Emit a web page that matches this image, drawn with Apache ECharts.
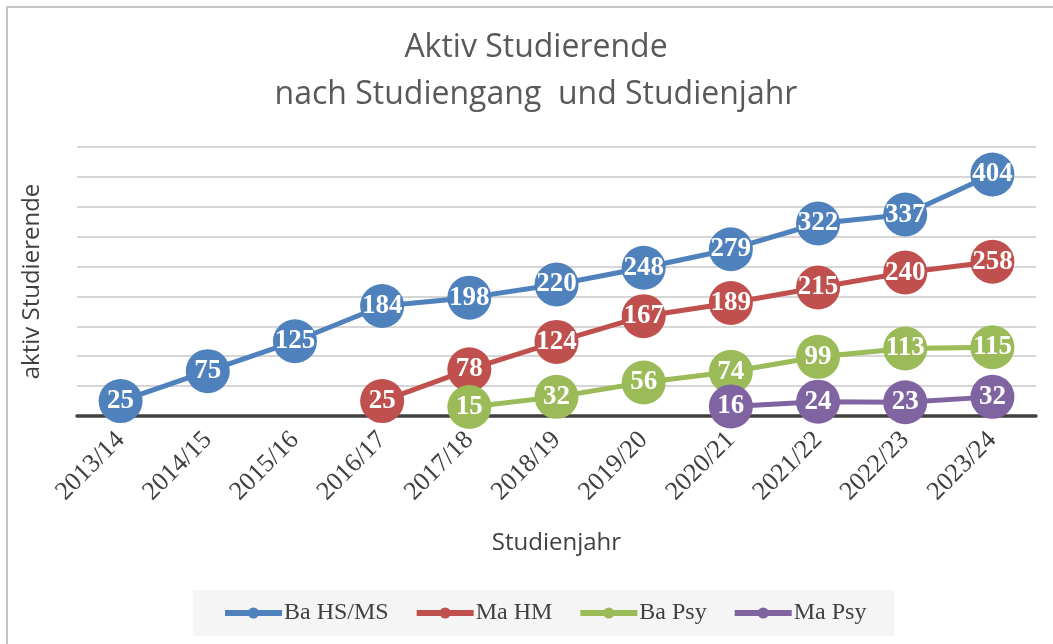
<!DOCTYPE html>
<html>
<head>
<meta charset="utf-8">
<script src="https://cdn.jsdelivr.net/npm/echarts@6/dist/echarts.min.js"></script>
<style>
  html, body { margin: 0; padding: 0; background: #fff; }
  #main { width: 1053px; height: 644px; }
</style>
</head>
<body>
<div id="main"></div>
<script>
// Studienjahre (Kategorien)
var years = ['2013/14', '2014/15', '2015/16', '2016/17', '2017/18', '2018/19',
             '2019/20', '2020/21', '2021/22', '2022/23', '2023/24'];

// aktiv Studierende je Studiengang
var baHsMs = [25, 75, 125, 184, 198, 220, 248, 279, 322, 337, 404];
var maHm   = ['-', '-', '-', 25, 78, 124, 167, 189, 215, 240, 258];
var baPsy  = ['-', '-', '-', '-', 15, 32, 56, 74, 99, 113, 115];
var maPsy  = ['-', '-', '-', '-', '-', '-', '-', 16, 24, 23, 32];

var names  = ['Ba HS/MS', 'Ma HM', 'Ba Psy', 'Ma Psy'];
var colors = ['#4f81bd', '#c0504d', '#9bbb59', '#8064a2'];

function mkSeries(name, data, color) {
    return {
        name: name,
        type: 'line',
        data: data,
        symbol: 'circle',
        symbolSize: 44,
        color: color,
        lineStyle: { width: 5, color: color },
        itemStyle: { color: color },
        label: {
            show: true,
            position: 'inside',
            color: '#fff',
            fontFamily: 'Liberation Serif',
            fontWeight: 'bold',
            fontSize: 27
        },
        emphasis: { disabled: true },
        animation: false
    };
}

var myChart = echarts.init(document.getElementById('main'));
var option = {
    backgroundColor: '#fff',
    title: {
        text: 'Aktiv Studierende\nnach Studiengang  und Studienjahr',
        left: 536,
        textAlign: 'center',
        top: 24,
        padding: 0,
        textStyle: {
            fontFamily: 'Open Sans',
            fontWeight: 'normal',
            fontSize: 32,
            lineHeight: 47,
            color: '#595959'
        }
    },
    legend: {
        data: names,
        left: 193,
        top: 590,
        backgroundColor: '#f5f5f5',
        padding: [11, 28, 11, 29],
        itemWidth: 57,
        itemHeight: 14,
        itemGap: 25,
        lineStyle: { width: 6 },
        textStyle: {
            fontFamily: 'Liberation Serif',
            fontSize: 24,
            color: '#404040',
            padding: [0, 0, 0, -3]
        }
    },
    graphic: [{
        type: 'rect',
        shape: { x: 7, y: 7, width: 1200, height: 800 },
        style: { fill: 'none', stroke: '#c4c4c4', lineWidth: 2 },
        silent: true
    }],
    grid: { left: 77, right: 17, top: 147, bottom: 228 },
    xAxis: {
        type: 'category',
        data: years,
        boundaryGap: true,
        axisTick: { show: false },
        axisLine: { lineStyle: { color: '#404040', width: 3.5 } },
        axisLabel: {
            rotate: 45,
            margin: 20,
            fontFamily: 'Liberation Serif',
            fontSize: 26,
            color: '#404040'
        },
        name: 'Studienjahr',
        nameLocation: 'middle',
        nameGap: 115,
        nameTextStyle: { fontFamily: 'Open Sans', fontSize: 24, color: '#404040' }
    },
    yAxis: {
        type: 'value',
        min: 0,
        max: 450,
        interval: 50,
        axisLabel: { show: false },
        axisLine: { show: false },
        axisTick: { show: false },
        splitLine: { lineStyle: { color: '#c9c9c9', width: 1.5 } },
        name: 'aktiv Studierende',
        nameLocation: 'middle',
        nameGap: 33,
        nameTextStyle: { fontFamily: 'Open Sans', fontSize: 24, color: '#404040' }
    },
    series: [
        mkSeries(names[0], baHsMs, colors[0]),
        mkSeries(names[1], maHm, colors[1]),
        mkSeries(names[2], baPsy, colors[2]),
        mkSeries(names[3], maPsy, colors[3])
    ]
};
myChart.setOption(option);
</script>
</body>
</html>
